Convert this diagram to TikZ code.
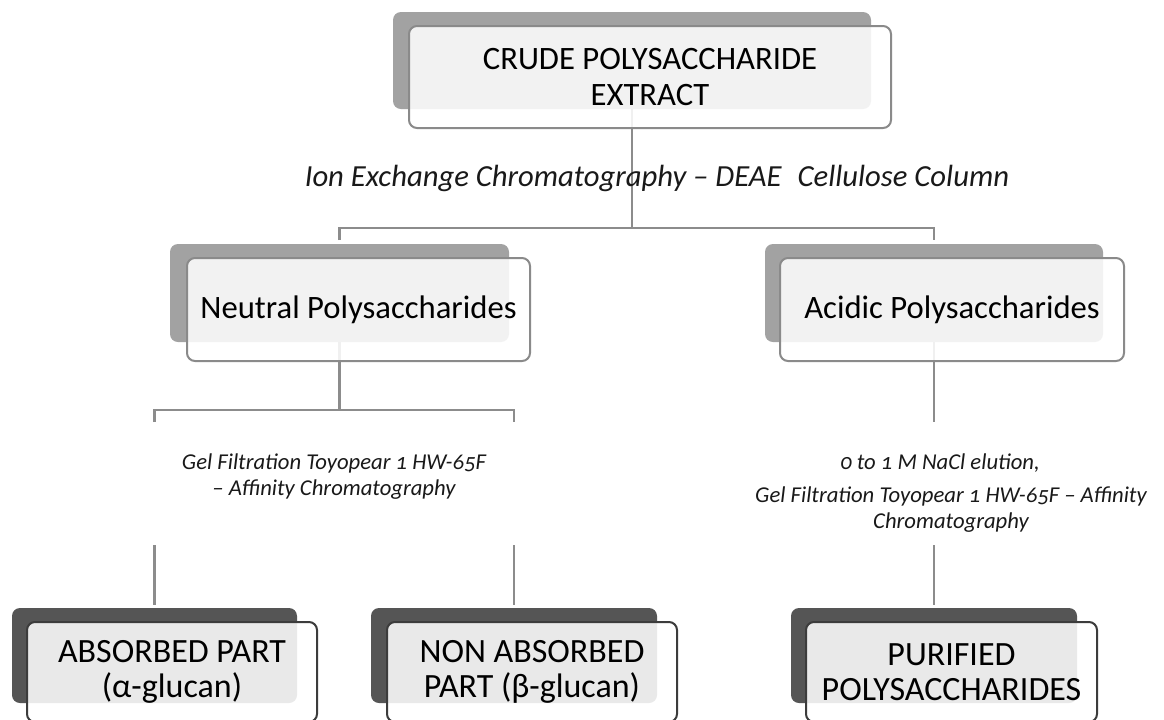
\documentclass[tikz,border=0pt]{standalone}
\usepackage{fontspec}
\setmainfont{Carlito}[Numbers=OldStyle]
\usetikzlibrary{calc}
\definecolor{backlight}{HTML}{A2A2A2}
\definecolor{backdark}{HTML}{555555}
\definecolor{lineclr}{HTML}{8C8C8C}
\definecolor{borderlight}{HTML}{8A8A8A}
\definecolor{borderdark}{HTML}{3C3C3C}
\tikzset{
  backbox/.style={fill=#1, rounded corners=6pt, inner sep=0pt, draw=none},
  frontbox/.style={draw=#1, line width=1.5pt, fill=white, fill opacity=0.87, text opacity=1, draw opacity=1, rounded corners=6pt, inner sep=0pt, align=center, font=\fontsize{24.5}{26.5}\selectfont, text=black},
  conn/.style={draw=lineclr, line width=1.9pt},
  lbl/.style={align=center, text=black!90, inner sep=0pt},
}
\begin{document}
\begin{tikzpicture}[x=0.75pt,y=-0.75pt]
\useasboundingbox (0,0) rectangle (1164,719);
\fill[white] (0,0) rectangle (1164,719);
% back boxes
\node[backbox=backlight, minimum width=478*0.75pt, minimum height=97*0.75pt] (topB) at (632,60.5) {};
\node[backbox=backlight, minimum width=339*0.75pt, minimum height=98*0.75pt] (neuB) at (339.5,293) {};
\node[backbox=backlight, minimum width=338*0.75pt, minimum height=98*0.75pt] (acB) at (934,293) {};
\node[backbox=backdark, minimum width=285*0.75pt, minimum height=95*0.75pt] (absB) at (154.5,655.5) {};
\node[backbox=backdark, minimum width=286*0.75pt, minimum height=95*0.75pt] (nabB) at (514,655.5) {};
\node[backbox=backdark, minimum width=286*0.75pt, minimum height=95*0.75pt] (purB) at (934,655.5) {};
% bus levels
\coordinate (bus1) at (0,228);
\coordinate (tick1) at (0,240);
\coordinate (bus2) at (0,410);
\coordinate (tick2) at (0,422);
\coordinate (low) at (0,545);
\coordinate (lowend) at (0,605);
% connectors
\draw[conn] (topB.south) -- (topB.south |- bus1);
\draw[conn] (neuB.north |- tick1) |- (acB.north |- bus1) -- (acB.north |- tick1);
\draw[conn] (neuB.south) -- (neuB.south |- bus2);
\draw[conn] (absB.north |- tick2) |- (nabB.north |- bus2) -- (nabB.north |- tick2);
\draw[conn] (acB.south) -- (acB.south |- tick2);
\draw[conn] (absB.north |- low) -- (absB.north |- lowend);
\draw[conn] (nabB.north |- low) -- (nabB.north |- lowend);
\draw[conn] (purB.north |- low) -- (purB.north |- lowend);
% front boxes
\node[frontbox=borderlight, minimum width=482*0.75pt, minimum height=102*0.75pt] (top) at (650,77) {CRUDE POLYSACCHARIDE\\EXTRACT};
\node[frontbox=borderlight, minimum width=343*0.75pt, minimum height=103*0.75pt] (neu) at (358.5,309.5) {Neutral Polysaccharides};
\node[frontbox=borderlight, minimum width=344*0.75pt, minimum height=103*0.75pt] (ac) at (952,309.5) {Acidic Polysaccharides};
\node[frontbox=borderdark, minimum width=290*0.75pt, minimum height=100*0.75pt, font=\fontsize{25.5}{26.5}\selectfont] (abs) at (172,672) {ABSORBED PART\\(α-glucan)};
\node[frontbox=borderdark, minimum width=290*0.75pt, minimum height=100*0.75pt, font=\fontsize{25.5}{26.5}\selectfont] (nab) at (532,672) {NON ABSORBED\\PART (β-glucan)};
\node[frontbox=borderdark, minimum width=291*0.75pt, minimum height=100*0.75pt, font=\fontsize{25.5}{26.5}\selectfont] (pur) at (951.5,672) {PURIFIED\\POLYSACCHARIDES};
% labels
\node[lbl, font=\fontsize{23}{26}\selectfont\itshape] (ionlbl) at (657,178) {Ion Exchange Chromatography – DEAE\hspace{0.3em} Cellulose Column};
\node[lbl, font=\fontsize{17}{20}\selectfont\itshape] (gel1) at (334,476.5) {Gel Filtration Toyopear 1 HW-65F\\– Affinity Chromatography};
\node[lbl, font=\fontsize{17}{20}\selectfont\itshape] (nacl) at (940,463) {0 to 1 M NaCl elution,};
\node[lbl, font=\fontsize{17}{19.5}\selectfont\itshape] (gel2) at (951,510) {Gel Filtration Toyopear 1 HW-65F – Affinity\\Chromatography};
\end{tikzpicture}
\end{document}
